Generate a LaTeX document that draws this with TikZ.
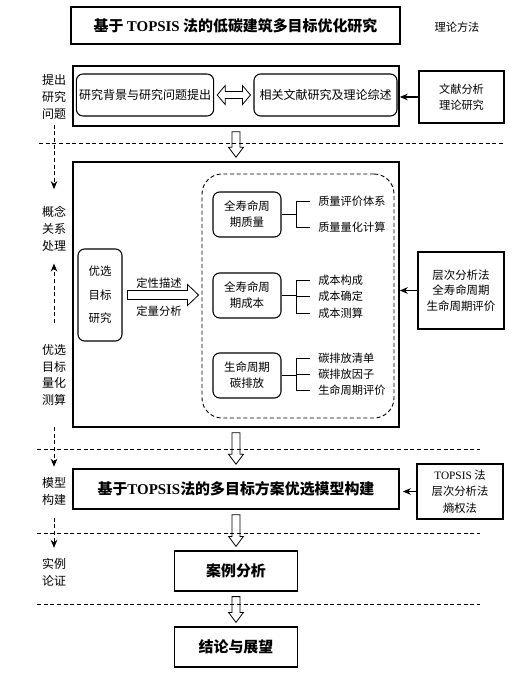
\documentclass[tikz,border=0pt]{standalone}
\usepackage{fontspec}
\setmainfont{Noto Sans CJK SC}
\newfontfamily\latinfont{Liberation Serif}
\usepackage{tikz}
\usetikzlibrary{arrows.meta}
\usetikzlibrary{calc,positioning}

\begin{document}
\begin{tikzpicture}[x=0.75pt,y=-0.75pt,
		stagebox/.style={draw,line width=1.2pt,minimum width=326*0.75pt},
		plainbox/.style={draw,line width=0.9pt,font=\bfseries\fontsize{11.2}{14}\selectfont},
		roundbox/.style={draw,rounded corners=5pt,line width=0.8pt,align=center},
		methodbox/.style={draw,line width=0.9pt,align=center},
		sidelabel/.style={align=center,font=\fontsize{9}{12.5}\selectfont,inner sep=1pt},
		itemtext/.style={anchor=west,inner sep=0pt,font=\fontsize{8.4}{10}\selectfont},
		sidearrow/.style={line width=0.7pt,dash pattern=on 3pt off 2pt,-{Stealth[length=6pt,width=5pt]}},
		feed/.style={line width=0.9pt,-{Stealth[length=6pt,width=5pt]}},
		blockarrow/.style={draw,fill=white,line width=0.6pt},
		brace/.style={line width=0.7pt},
		sep/.style={line width=0.6pt,dash pattern=on 3pt off 2pt}]
		\useasboundingbox (0,0) rectangle (520,677);
		
		% Title
		\node[draw,line width=0.9pt,minimum width=329*0.75pt,minimum height=37*0.75pt,
		font=\bfseries\fontsize{11.2}{14}\selectfont] (title) at (235.5,25.5)
		{基于 {\latinfont TOPSIS} 法的低碳建筑多目标优化研究};
		\node[font=\fontsize{8.4}{10}\selectfont] (theory) at (457,27) {理论方法};
		
		% Stage 1: problem
		\node[stagebox,minimum height=60*0.75pt] (stage1) at (236,96) {};
		\node[roundbox,minimum width=136*0.75pt,minimum height=42*0.75pt,inner sep=2pt,
		font=\fontsize{9}{12}\selectfont] (bg) at (145,95) {研究背景与研究问题提出};
		\node[roundbox,minimum width=143*0.75pt,minimum height=42*0.75pt,inner sep=2pt,
		font=\fontsize{9}{12}\selectfont] (lit) at (325.5,95) {相关文献研究及理论综述};
		\draw[blockarrow] ($(bg.east)+(3,0)$) -- ++(8,-9.5) -- ++(0,6) -- ($(lit.west)+(-11,-3.5)$)
		-- ++(0,-6) -- ($(lit.west)+(-3,0)$) -- ++(-8,9.5) -- ++(0,-6) -- ($(bg.east)+(11,3.5)$)
		-- ++(0,6) -- cycle;
		\node[methodbox,minimum width=85*0.75pt,minimum height=52*0.75pt,
		font=\fontsize{8.4}{12}\selectfont] (litmeth) at (461.5,97) {文献分析\\理论研究};
		\draw[feed] (litmeth.west) -- (litmeth.west -| stage1.east);
		
		% Stage 2: objectives
		\node[stagebox,minimum height=265*0.75pt] (stage2) at (236,294.5) {};
		\node[roundbox,minimum width=44*0.75pt,minimum height=92*0.75pt,
		font=\fontsize{8.6}{17.5}\selectfont] (goal) at (100,295) {优选\\目标\\研究};
		\node[draw,dash pattern=on 3pt off 2pt,rounded corners=15pt,line width=0.7pt,
		minimum width=192*0.75pt,minimum height=244*0.75pt] (cont) at (298,296) {};
		\draw[blockarrow] ($(goal.east)+(5,-4.5)$) -- ($(goal.east -| cont.west)+(-14,-4.5)$)
		-- ++(0,-6) -- ($(goal.east -| cont.west)+(-3,0)$) -- ++(-11,10.5) -- ++(0,-6)
		-- ($(goal.east)+(5,4.5)$) -- cycle;
		\node[font=\fontsize{8.5}{10}\selectfont] (qdesc) at (159,283) {定性描述};
		\node[font=\fontsize{8.5}{10}\selectfont] (qanal) at (159,311) {定量分析};
		
		\foreach \nm/\yy/\txt in {qual/214.5/{全寿命周\\期质量}, cost/295.5/{全寿命周\\期成本},
			carb/375.5/{生命周期\\碳排放}}
		\node[roundbox,minimum width=68*0.75pt,minimum height=45*0.75pt,
		font=\fontsize{8.6}{12}\selectfont] (\nm) at (247,\yy) {\txt};
		
		\foreach \nm/\yy/\txt in {qi1/201/质量评价体系, qi2/227/质量量化计算,
			ci1/280/成本构成, ci2/296/成本确定, ci3/313/成本测算,
			ei1/358/碳排放清单, ei2/374/碳排放因子, ei3/390/生命周期评价}
		\node[itemtext] (\nm) at (318,\yy) {\txt};
		
		% Brackets to the items
		\draw[brace] (qual.east) -- ++(15,0);
		\draw[brace] ($(qi1.west)+(-8,0)$) -- ++(-14,0) |- ($(qi2.west)+(-8,0)$);
		\foreach \bx/\ia/\ib/\ic in {cost/ci1/ci2/ci3, carb/ei1/ei2/ei3} {
			\draw[brace] (\bx.east) -- ++(15,0);
			\draw[brace] ($(\ia.west)+(-8,0)$) -- ++(-14,0) |- ($(\ic.west)+(-8,0)$);
			\draw[brace] ($(\ib.west)+(-8,0)$) -- ++(-14,0);
		}
		
		\node[methodbox,minimum width=86*0.75pt,minimum height=77*0.75pt,
		font=\fontsize{8.6}{11.7}\selectfont] (ahp) at (461,290.5) {层次分析法\\全寿命周期\\生命周期评价};
		\draw[feed] (ahp.west) -- (ahp.west -| stage2.east);
		
		% Stage 3, case and conclusion
		\node[stagebox,minimum height=40*0.75pt,font=\bfseries\fontsize{11.2}{14}\selectfont] (stage3)
		at (236,489) {基于{\latinfont TOPSIS}法的多目标方案优选模型构建};
		\node[methodbox,minimum width=86*0.75pt,minimum height=55*0.75pt,
		font=\fontsize{8.5}{12.4}\selectfont] (topm) at (460,491.5) {{\latinfont TOPSIS} 法\\层次分析法\\熵权法};
		\draw[feed] (topm.west) -- ($(topm.west -| stage3.east)+(3,0)$);
		\node[plainbox,minimum width=123*0.75pt,minimum height=40*0.75pt] (case) at (236,571) {案例分析};
		\node[plainbox,minimum width=123*0.75pt,minimum height=40*0.75pt] (concl) at (236,647) {结论与展望};
		
		% Hollow arrows between stages
		\foreach \a/\b in {stage1/stage2, stage2/stage3, stage3/case, case/concl} {
			\draw[blockarrow] ($(\a.south)+(-4,5)$) -- ($(\a.south |- \b.north)+(-4,-14)$)
			-- ++(-3.5,0) -- ($(\a.south |- \b.north)+(0,-4)$) -- ++(7.5,-10) -- ++(-3.5,0)
			-- ($(\a.south)+(4,5)$) -- cycle;
		}
		
		% Separating lines
		\draw[sep] (39,143) -- (503,143);
		\foreach \yy in {449, 533, 604}
		\draw[sep] (37,\yy) -- (480,\yy);
		
		% Left column
		\node[sidelabel] (lab1) at (54,97) {提出\\研究\\问题};
		\node[sidelabel] (lab2) at (54,229) {概念\\关系\\处理};
		\node[sidelabel] (lab3) at (54,375) {优选\\目标\\量化\\测算};
		\node[sidelabel] (lab4) at (54,491.5) {模型\\构建};
		\node[sidelabel] (lab5) at (54,572.5) {实例\\论证};
		\draw[sidearrow,shorten <=3pt,shorten >=12pt] (lab1) -- (lab2);
		\draw[sidearrow,shorten <=15pt,shorten >=8pt] (lab3) -- (lab2);
		\draw[sidearrow,shorten <=15pt,shorten >=7pt] (lab3) -- (lab4);
		\draw[sidearrow,shorten <=8pt,shorten >=7pt] (lab4) -- (lab5);
	\end{tikzpicture}
\end{document}
